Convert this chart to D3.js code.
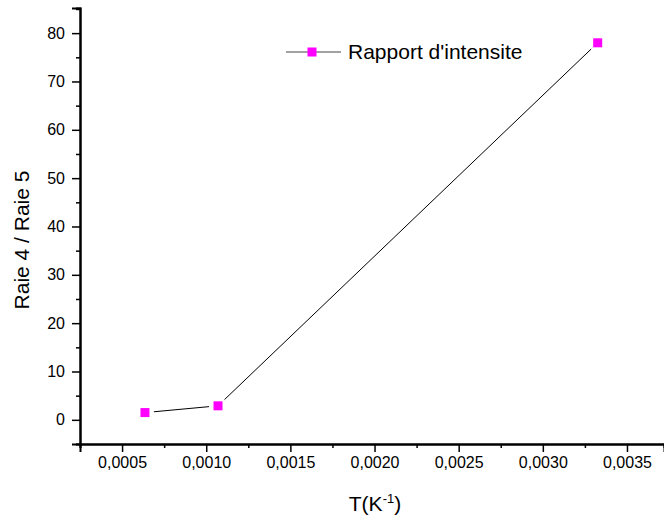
<!DOCTYPE html>
<html lang="en">
  <head>
    <meta charset="UTF-8">
    <script src="https://d3js.org/d3.v7.min.js"></script>
    <title>Rapport d'intensite</title>
    <style>
      body { margin: 0; background: #fff; }
      svg text { font-family: "Liberation Sans", Arial, sans-serif; }
    </style>
  </head>
  <body>
    <div id="chart"></div>
    <script>
      // data
      const tValues = [0.000636, 0.00107, 0.003326];
      const ratioValues = [1.5, 2.9, 78.0];
      const xTicks = [0.0005, 0.0010, 0.0015, 0.0020, 0.0025, 0.0030, 0.0035];
      const yTicks = [0, 10, 20, 30, 40, 50, 60, 70, 80];
      const seriesName = "Rapport d'intensite";

      const width = 664, height = 523;
      const plotLeft = 80, plotRight = 664, plotTop = 8, plotBottom = 444;

      const xScale = d3.scaleLinear().domain([0.00025, 0.00372]).range([plotLeft, plotRight]);
      const yScale = d3.scaleLinear().domain([-5, 85.2]).range([plotBottom, plotTop]);

      const svg = d3.select("#chart").append("svg")
        .attr("width", width).attr("height", height);

      const fmt = d => d3.format(".4f")(d).replace(".", ",");

      // minor ticks first
      const xMinor = xTicks.map(d => d - 0.00025);
      const yMinor = yTicks.map(d => d - 5).concat([85]);

      const xMinorAxis = d3.axisBottom(xScale).tickValues(xMinor).tickSize(4).tickFormat("");
      const yMinorAxis = d3.axisLeft(yScale).tickValues(yMinor).tickSize(4).tickFormat("");

      const xAxis = d3.axisBottom(xScale).tickValues(xTicks).tickSize(8).tickPadding(5).tickFormat(fmt);
      const yAxis = d3.axisLeft(yScale).tickValues(yTicks).tickSize(8).tickPadding(7).tickFormat(d3.format("d"));

      const styleAxis = g => {
        g.attr("font-family", null).attr("font-size", null);
        g.select(".domain").attr("stroke", "#000").attr("stroke-width", 2);
        g.selectAll(".tick line").attr("stroke", "#000").attr("stroke-width", 1.5);
        g.selectAll(".tick text").attr("fill", "#000").style("font-size", "16px");
      };

      svg.append("g").attr("transform", `translate(0,${plotBottom})`).call(xMinorAxis).call(styleAxis);
      svg.append("g").attr("transform", `translate(${plotLeft},0)`).call(yMinorAxis).call(styleAxis);
      svg.append("g").attr("transform", `translate(0,${plotBottom})`).call(xAxis).call(styleAxis);
      svg.append("g").attr("transform", `translate(${plotLeft},0)`).call(yAxis).call(styleAxis);

      // axis titles
      const xt = svg.append("text")
        .attr("x", 375).attr("y", 511)
        .attr("text-anchor", "middle").style("font-size", "21px");
      xt.append("tspan").text("T(K");
      xt.append("tspan").attr("dy", -8).style("font-size", "13px").text("-1");
      xt.append("tspan").attr("dy", 8).text(")");

      svg.append("text")
        .attr("transform", "translate(29,240) rotate(-90)")
        .attr("text-anchor", "middle").style("font-size", "21px")
        .text("Raie 4 / Raie 5");

      // series line, with a gap around each marker
      const pts = tValues.map((t, i) => [xScale(t), yScale(ratioValues[i])]);
      const gap = 9;
      for (let i = 0; i < pts.length - 1; i++) {
        const [x1, y1] = pts[i], [x2, y2] = pts[i + 1];
        const len = Math.hypot(x2 - x1, y2 - y1);
        const ux = (x2 - x1) / len, uy = (y2 - y1) / len;
        svg.append("line")
          .attr("x1", x1 + ux * gap).attr("y1", y1 + uy * gap)
          .attr("x2", x2 - ux * gap).attr("y2", y2 - uy * gap)
          .attr("stroke", "#000").attr("stroke-width", 1);
      }

      svg.selectAll("rect.marker").data(pts).enter().append("rect")
        .attr("class", "marker")
        .attr("x", d => d[0] - 4.5).attr("y", d => d[1] - 4.5)
        .attr("width", 9).attr("height", 9)
        .attr("fill", "#ff00ff");

      // legend
      const lg = svg.append("g").attr("transform", "translate(286,52)");
      lg.append("line").attr("x1", 0).attr("x2", 55).attr("y1", 0).attr("y2", 0)
        .attr("stroke", "#444").attr("stroke-width", 1);
      lg.append("rect").attr("x", 21.5).attr("y", -4.5).attr("width", 9).attr("height", 9).attr("fill", "#ff00ff");
      lg.append("text").attr("x", 62).attr("y", 7).style("font-size", "21px").text(seriesName);
    </script>
  </body>
</html>
